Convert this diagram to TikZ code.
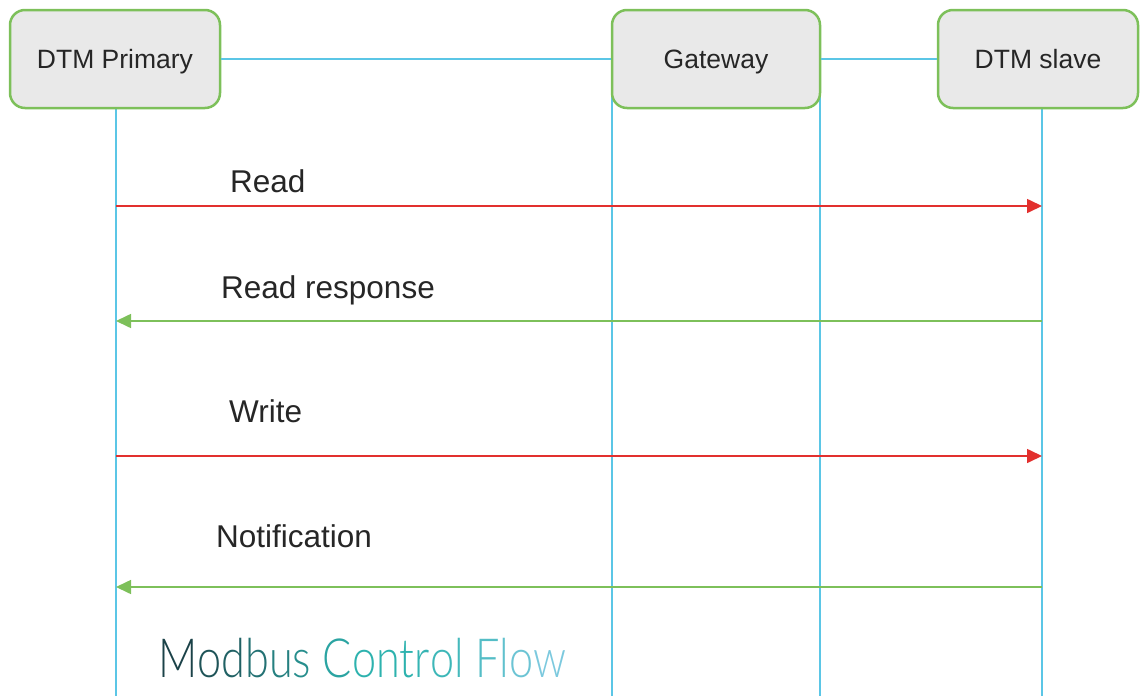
\documentclass[tikz,border=0pt]{standalone}
\usepackage{fontspec}
\setmainfont{Liberation Sans}
\newfontfamily\titlefont{Lato Light}
\usetikzlibrary{arrows.meta}
\definecolor{boxfill}{HTML}{E9E9E9}
\definecolor{boxline}{HTML}{7DC05A}
\definecolor{life}{HTML}{5BC6E6}
\definecolor{redarr}{HTML}{E2302E}
\definecolor{greenarr}{HTML}{7DC05A}
\definecolor{txt}{HTML}{262626}
\definecolor{tA}{HTML}{1B4248}
\definecolor{tB}{HTML}{2DB2AE}
\definecolor{tC}{HTML}{7CC9DE}
\begin{document}
\begin{tikzpicture}[x=1pt,y=-1pt,
  actor/.style={draw=boxline,line width=2.5pt,fill=boxfill,rounded corners=15pt,
    minimum width=208pt,minimum height=98pt,inner sep=0pt,text height=20pt,text depth=2pt,
    font=\fontsize{26.5}{30}\selectfont,text=txt},
  lifeline/.style={draw=life,line width=1.6pt},
  msgred/.style={draw=redarr,line width=1.6pt,-{Triangle[length=15pt,width=14pt]}},
  msggreen/.style={draw=greenarr,line width=1.6pt,-{Triangle[length=15pt,width=14pt]}},
  msglabel/.style={font=\fontsize{31.5}{36}\selectfont,text=txt,anchor=base west,inner sep=0pt}]
\useasboundingbox (0,0) rectangle (1140,696);
% lifelines
\coordinate (pTop) at (116,108);
\coordinate (pBot) at (116,696);
\coordinate (gLTop) at (612,90);
\coordinate (gLBot) at (612,696);
\coordinate (gRTop) at (820,90);
\coordinate (gRBot) at (820,696);
\coordinate (sTop) at (1042,108);
\coordinate (sBot) at (1042,696);
\draw[lifeline] (pTop) -- (pBot);
\draw[lifeline] (gLTop) -- (gLBot);
\draw[lifeline] (gRTop) -- (gRBot);
\draw[lifeline] (sTop) -- (sBot);
% actors
\node[actor,minimum width=210pt] (prim) at (115,59) {DTM Primary};
\node[actor] (gw) at (716,59) {Gateway};
\node[actor,minimum width=200pt] (slave) at (1038,59) {DTM slave};
\draw[lifeline] (prim.east) -- (gw.west);
\draw[lifeline] (gw.east) -- (slave.west);
% message endpoints
\coordinate (p1) at (116,206); \coordinate (s1) at (1042,206);
\coordinate (p2) at (116,321); \coordinate (s2) at (1042,321);
\coordinate (p3) at (116,456); \coordinate (s3) at (1042,456);
\coordinate (p4) at (116,587); \coordinate (s4) at (1042,587);
\draw[msgred] (p1) -- (s1);
\draw[msggreen] (s2) -- (p2);
\draw[msgred] (p3) -- (s3);
\draw[msggreen] (s4) -- (p4);
\node[msglabel] (l1) at (230,192) {Read};
\node[msglabel] (l2) at (221,298) {Read response};
\node[msglabel] (l3) at (229,422) {Write};
\node[msglabel] (l4) at (216,547) {Notification};
\node[anchor=base west,inner sep=0pt,xscale=0.8,font=\titlefont\fontsize{54}{60}\selectfont] (title) at (158,677)
 {\textcolor{tA}{M}\textcolor{tA!85!tB}{o}\textcolor{tA!72!tB}{d}\textcolor{tA!58!tB}{b}\textcolor{tA!45!tB}{u}\textcolor{tA!32!tB}{s}
  \textcolor{tA!12!tB}{C}\textcolor{tB}{o}\textcolor{tB}{n}\textcolor{tB}{t}\textcolor{tB!90!tC}{r}\textcolor{tB!80!tC}{o}\textcolor{tB!70!tC}{l}
  \textcolor{tB!50!tC}{F}\textcolor{tB!35!tC}{l}\textcolor{tB!20!tC}{o}\textcolor{tC}{w}};
\end{tikzpicture}
\end{document}
